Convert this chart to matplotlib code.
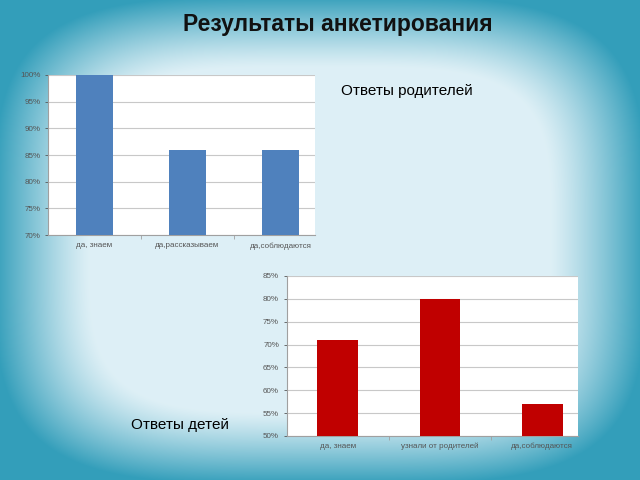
import matplotlib.pyplot as plt
import numpy as np
from matplotlib.ticker import PercentFormatter

# родители
cat_parents = ['да, знаем', 'да,рассказываем', 'да,соблюдаются']
val_parents = [100, 86, 86]

# дети
cat_kids = ['да, знаем', 'узнали от родителей', 'да,соблюдаются']
val_kids = [71, 80, 57]

plt.rcParams['font.family'] = ['Liberation Sans', 'DejaVu Sans']

fig = plt.figure(figsize=(6.4, 4.8), dpi=100)

# фон слайда: светлый центр, бирюзовые края
bg = fig.add_axes([0, 0, 1, 1])
yy, xx = np.mgrid[-1:1:480j, -1:1:640j]
r = (np.abs(xx) ** 4 + np.abs(yy) ** 4) ** 0.25
t = np.clip((r - 0.72) / 0.3, 0, 1) ** 1.2
c_in = np.array([0.87, 0.94, 0.965])
c_out = np.array([0.20, 0.62, 0.73])
img = c_in[None, None, :] * (1 - t[..., None]) + c_out[None, None, :] * t[..., None]
bg.imshow(img, aspect='auto', extent=[0, 1, 0, 1])
bg.axis('off')


def draw(ax, cats, vals, color, ylim, xmax):
    x = np.arange(len(cats))
    ax.bar(x, vals, width=0.4, color=color, zorder=3)
    ax.set_ylim(*ylim)
    ax.set_xlim(-0.5, xmax)
    ax.set_yticks(range(ylim[0], ylim[1] + 1, 5))
    ax.yaxis.set_major_formatter(PercentFormatter(decimals=0))
    ax.set_xticks(x)
    ax.set_xticklabels(cats)
    ax.set_xticks([0.5, 1.5], minor=True)
    ax.grid(axis='y', color='#c8c8c8', linewidth=0.8, zorder=0)
    ax.set_facecolor('white')
    for s in ['top', 'right']:
        ax.spines[s].set_visible(False)
    ax.spines['left'].set_color('#a0a0a0')
    ax.spines['bottom'].set_color('#a0a0a0')
    ax.tick_params(axis='both', labelsize=5.8, colors='#555555', length=2, width=0.6)
    ax.tick_params(axis='x', which='major', length=0, pad=5)
    ax.tick_params(axis='x', which='minor', length=3, color='#a0a0a0', width=0.6)


ax1 = fig.add_axes([0.075, 0.51, 0.417, 0.334])
draw(ax1, cat_parents, val_parents, '#4f81bd', (70, 100), 2.37)

ax2 = fig.add_axes([0.448, 0.092, 0.455, 0.333])
draw(ax2, cat_kids, val_kids, '#c00000', (50, 85), 2.35)

fig.text(0.528, 0.948, 'Результаты анкетирования', ha='center', va='center',
         fontsize=16.5, fontweight='bold', color='#111111')
fig.text(0.533, 0.81, 'Ответы родителей', ha='left', va='center', fontsize=11)
fig.text(0.205, 0.115, 'Ответы детей', ha='left', va='center', fontsize=11)

plt.savefig('out.png', dpi=100)
